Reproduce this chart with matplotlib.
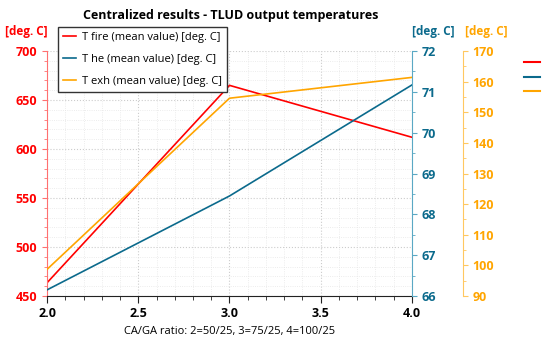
import matplotlib
matplotlib.use("Agg")
import matplotlib.pyplot as plt
from matplotlib.ticker import MultipleLocator
from matplotlib.lines import Line2D

plt.rcParams['font.family'] = ['Open Sans', 'DejaVu Sans']

ratio = [2.0, 3.0, 4.0]
t_fire = [463.5, 665, 612]
t_he = [66.15, 68.45, 71.17]
t_exh = [98.7, 154.6, 161.4]
labels = ['T fire (mean value) [deg. C]', 'T he (mean value) [deg. C]',
          'T exh (mean value) [deg. C]']

c_red = '#ff0000'
c_blue = '#0b6a8c'
c_orange = '#ffa500'

fig = plt.figure(figsize=(5.5, 3.45), dpi=100)
ax = fig.add_axes([0.0855, 0.142, 0.6635, 0.71])
ax2 = ax.twinx()
ax3 = ax.twinx()

l1, = ax.plot(ratio, t_fire, color=c_red, lw=1.2)
l2, = ax2.plot(ratio, t_he, color=c_blue, lw=1.2)
l3, = ax3.plot(ratio, t_exh, color=c_orange, lw=1.2)

ax.set_xlim(2.0, 4.0)
ax.set_ylim(450, 700)
ax2.set_ylim(66, 72)
ax3.set_ylim(90, 170)

ax.xaxis.set_major_locator(MultipleLocator(0.5))
ax.xaxis.set_minor_locator(MultipleLocator(0.1))
ax.yaxis.set_major_locator(MultipleLocator(50))
ax.yaxis.set_minor_locator(MultipleLocator(10))
ax2.yaxis.set_major_locator(MultipleLocator(1))
ax2.yaxis.set_minor_locator(MultipleLocator(0.5))
ax3.yaxis.set_major_locator(MultipleLocator(10))
ax3.yaxis.set_minor_locator(MultipleLocator(5))

ax.grid(True, which='major', color='#cccccc', ls=':', lw=0.8)
ax.grid(True, which='minor', color='#e6e6e6', ls=':', lw=0.6)

for s in ['top', 'right']:
    ax.spines[s].set_visible(False)
ax.spines['left'].set_color('#ff7070')
ax.spines['bottom'].set_color('#222222')
for s in ['top', 'left', 'bottom']:
    ax2.spines[s].set_visible(False)
    ax3.spines[s].set_visible(False)
ax2.spines['right'].set_color('#5aa8c4')
ax3.spines['right'].set_position(('axes', 1.14))
ax3.spines['right'].set_color('#ffc860')

ax.tick_params(axis='x', which='both', direction='out', color='#222222',
               labelsize=9, pad=3)
ax.tick_params(axis='x', which='major', length=5)
ax.tick_params(axis='x', which='minor', length=3)
ax.tick_params(axis='y', which='both', colors='#ff7070', labelcolor=c_red,
               labelsize=9)
ax.tick_params(axis='y', which='minor', length=2.5)
ax2.tick_params(axis='y', which='both', colors='#5aa8c4', labelcolor=c_blue,
                labelsize=9)
ax2.tick_params(axis='y', which='minor', length=2.5)
ax3.tick_params(axis='y', which='both', colors='#ffc860', labelcolor=c_orange,
                labelsize=9)
ax3.tick_params(axis='y', which='minor', length=2.5)

for a in [ax, ax2, ax3]:
    for t in a.get_xticklabels() + a.get_yticklabels():
        t.set_fontweight('bold')

ax.set_xlabel('CA/GA ratio: 2=50/25, 3=75/25, 4=100/25', fontsize=8, labelpad=4)

fig.text(0.047, 0.91, '[deg. C]', color=c_red, fontsize=8.5, fontweight='bold',
         ha='center', va='center')
fig.text(0.787, 0.91, '[deg. C]', color=c_blue, fontsize=8.5, fontweight='bold',
         ha='center', va='center')
fig.text(0.885, 0.91, '[deg. C]', color=c_orange, fontsize=8.5, fontweight='bold',
         ha='center', va='center')

fig.text(0.42, 0.955, 'Centralized results - TLUD output temperatures',
         fontsize=9, fontweight='bold', ha='center', va='center')

leg = ax.legend([l1, l2, l3], labels, loc='upper left',
                bbox_to_anchor=(0.03, 1.1), fontsize=8, frameon=True,
                fancybox=False, edgecolor='#333333', framealpha=1,
                handlelength=1.2, handletextpad=0.5, borderpad=0.45,
                labelspacing=1.0, borderaxespad=0)
leg.get_frame().set_linewidth(1.0)

fig.legend([Line2D([], [], color=c_red), Line2D([], [], color=c_blue),
            Line2D([], [], color=c_orange)], ['', '', ''],
           loc='upper left', bbox_to_anchor=(0.935, 0.86), frameon=False,
           handlelength=1.4, labelspacing=0.3, fontsize=8)

fig.savefig('out.png', dpi=100)
